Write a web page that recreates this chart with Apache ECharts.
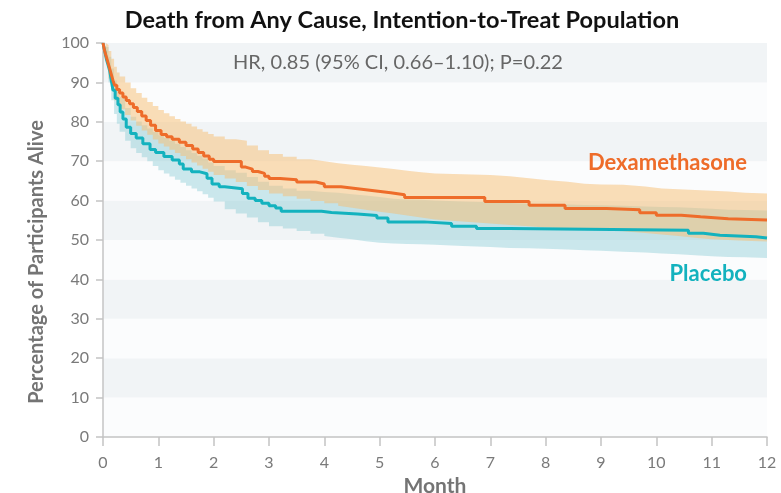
<!DOCTYPE html>
<html>
<head>
<meta charset="utf-8">
<title>Death from Any Cause</title>
<script src="https://cdn.jsdelivr.net/npm/echarts@6/dist/echarts.min.js"></script>
<style>
    html, body { margin: 0; padding: 0; background: #ffffff; }
    #km_chart { width: 781px; height: 493px; }
</style>
</head>
<body>
<div id="km_chart"></div>
<script>

// Data
// ------------------------------

var titleText = 'Death from Any Cause, Intention-to-Treat Population';
var hrText = 'HR, 0.85 (95% CI, 0.66\u20131.10); P=0.22';
var monthTicks = [0, 1, 2, 3, 4, 5, 6, 7, 8, 9, 10, 11, 12];

// Dexamethasone survival curve (month, % alive)
var dexTime = [0, 0.03, 0.06, 0.09, 0.12, 0.15, 0.18, 0.21, 0.25, 0.3, 0.36, 0.42, 0.48, 0.55, 0.62, 0.7, 0.78, 0.86, 0.95, 1.05, 1.15, 1.25, 1.38, 1.5, 1.62, 1.72, 1.82, 1.92, 2.0, 2.5, 2.58, 2.7, 2.8, 2.92, 3.0, 3.2, 3.5, 3.85, 4.0, 4.3, 4.6, 4.9, 5.2, 5.45, 6.9, 7.7, 8.35, 9.1, 9.7, 10.0, 10.45, 10.8, 11.3, 12];
var dexSurv = [100, 98, 96.5, 95, 93.5, 92, 90.5, 89.3, 88.2, 87.3, 86.3, 85.4, 84.6, 83.6, 82.6, 81.5, 80.3, 79.1, 77.8, 76.8, 76.2, 75.6, 74.8, 74.0, 73.1, 72.2, 71.3, 70.5, 69.9, 68.5, 68.0, 67.4, 66.9, 66.2, 65.6, 65.3, 64.7, 64.2, 63.5, 63.0, 62.5, 62.0, 61.5, 60.8, 59.8, 58.8, 58.0, 57.7, 56.9, 56.3, 55.9, 55.4, 55.1, 55.1];

// Placebo survival curve (month, % alive)
var plaTime = [0, 0.03, 0.06, 0.09, 0.12, 0.15, 0.18, 0.22, 0.27, 0.31, 0.36, 0.42, 0.5, 0.6, 0.72, 0.85, 0.95, 1.1, 1.25, 1.38, 1.45, 1.6, 1.75, 1.88, 1.97, 2.1, 2.2, 2.52, 2.62, 2.75, 2.87, 3.0, 3.12, 3.22, 3.95, 4.13, 4.6, 4.95, 5.15, 5.8, 6.3, 6.75, 7.35, 10.58, 10.85, 11.15, 11.8, 12];
var plaSurv = [100, 98, 96, 94.5, 93, 90.5, 88, 86, 84.3, 82.5, 80.7, 78.6, 77.0, 75.9, 74.4, 73.0, 72.2, 71.2, 70.3, 69.3, 68.0, 67.3, 66.8, 65.7, 64.2, 63.5, 63.0, 61.8, 60.6, 60.0, 59.3, 58.7, 58.1, 57.3, 57.0, 56.6, 56.2, 55.6, 54.6, 54.2, 53.5, 52.9, 52.5, 51.7, 51.2, 50.8, 50.5, 50.5];

// 95% confidence bands, sampled on one month grid
var bandTime = [0, 0.05, 0.1, 0.15, 0.2, 0.25, 0.3, 0.4, 0.5, 0.6, 0.7, 0.8, 0.9, 1.0, 1.1, 1.2, 1.3, 1.4, 1.5, 1.6, 1.7, 1.8, 1.9, 2.0, 2.2, 2.4, 2.6, 2.8, 3.0, 3.25, 3.5, 3.75, 4.0, 4.25, 4.5, 4.75, 5.0, 5.25, 5.5, 5.75, 6.0, 6.5, 7.0, 7.35, 7.7, 8.0, 8.4, 8.7, 9.0, 9.4, 9.8, 10.1, 10.4, 10.7, 11.0, 11.3, 11.6, 12];
var dexUpper = [100, 99.5, 98, 96, 94, 92.5, 91.5, 90, 88.5, 87.3, 86.1, 85, 84, 83, 82.2, 81.4, 80.7, 80.1, 79.5, 78.8, 78.1, 77.5, 76.9, 76.3, 75.6, 75.2, 74.0, 72.8, 71.8, 71.1, 70.5, 70.0, 69.5, 69.1, 68.8, 68.4, 68.0, 67.6, 67.2, 66.9, 66.7, 66.5, 66.2, 65.7, 65.2, 64.8, 64.3, 64.1, 64.0, 63.6, 63.1, 62.9, 62.7, 62.5, 62.3, 62.0, 61.8, 61.7];
var dexLower = [100, 95.5, 91, 88, 85.5, 84.3, 83.2, 81.7, 80.3, 79, 77.8, 76.7, 75.5, 74.5, 73.7, 72.9, 72.1, 71.3, 70.5, 69.7, 68.9, 68.1, 67.3, 66.5, 65.6, 64.7, 63.7, 62.7, 61.8, 61.1, 60.5, 59.9, 59.3, 58.7, 58.2, 57.7, 57.2, 56.7, 56.2, 55.7, 55.2, 54.7, 54.2, 53.8, 53.5, 53.2, 53.0, 52.8, 52.6, 52.2, 51.8, 51.4, 51.0, 50.6, 50.2, 50.0, 49.8, 49.6];
var plaUpper = [100, 99, 96.5, 93.5, 90.5, 88.2, 86.3, 83.5, 81.3, 80.1, 79.1, 78.3, 77.4, 76.6, 75.9, 75.2, 74.4, 73.6, 72.8, 72.1, 71.4, 70.6, 69.7, 68.8, 67.7, 67.1, 66.0, 64.8, 63.8, 63.1, 62.5, 62.2, 62.0, 61.6, 61.3, 60.9, 60.5, 60.3, 60.2, 60.0, 59.8, 59.6, 59.4, 59.2, 59.1, 59.0, 58.9, 58.8, 58.7, 58.5, 58.4, 58.3, 58.1, 57.9, 57.7, 57.6, 57.5, 57.4];
var plaLower = [100, 95, 90, 85.5, 82, 79.5, 77.5, 75.2, 73.3, 72.1, 71, 70, 68.8, 67.7, 66.9, 66.1, 65.3, 64.5, 63.8, 63.1, 62.4, 61.6, 60.7, 59.8, 57.8, 56.7, 55.7, 54.5, 53.5, 52.9, 52.3, 51.6, 51.0, 50.6, 50.2, 49.7, 49.3, 49.1, 49.0, 48.9, 48.8, 48.5, 48.2, 48.0, 47.9, 47.8, 47.6, 47.4, 47.3, 47.0, 46.8, 46.6, 46.4, 46.1, 45.9, 45.7, 45.6, 45.4];


// Setup module
// ------------------------------

var EchartsSurvivalCurve = function() {

    var zip = function(xs, ys) {
        return xs.map(function(x, i) { return [x, ys[i]]; });
    };

    // band rows are [value, month] so that the stack runs on the y value
    var bandRows = function(xs, ys) {
        return xs.map(function(x, i) { return [ys[i], x]; });
    };
    var diffRows = function(xs, hi, lo) {
        return xs.map(function(x, i) { return [+(hi[i] - lo[i]).toFixed(2), x]; });
    };

    var _survivalChart = function() {
        if (typeof echarts == 'undefined') {
            console.warn('Warning - echarts.min.js is not loaded.');
            return;
        }

        var chart_element = document.getElementById('km_chart');
        if (!chart_element) return;

        var chart = echarts.init(chart_element, null, { renderer: 'canvas' });

        // Colors
        var dexColor = '#ee6c2a',
            plaColor = '#13b2be',
            dexBand = 'rgba(247, 190, 113, 0.5)',
            plaBand = 'rgba(130, 200, 210, 0.4)',
            axisColor = '#c4c4c4',
            labelColor = '#7a7a7a',
            nameColor = '#747474';

        var fontFamily = 'Lato, "Open Sans", sans-serif';

        // Band helpers
        var bandBase = function(stack, lower) {
            return {
                type: 'line',
                stack: stack,
                step: 'end',
                symbol: 'none',
                silent: true,
                encode: { x: 1, y: 0 },
                lineStyle: { opacity: 0 },
                data: bandRows(bandTime, lower),
                z: 1
            };
        };
        var bandFill = function(stack, upper, lower, color) {
            return {
                type: 'line',
                stack: stack,
                step: 'end',
                symbol: 'none',
                silent: true,
                encode: { x: 1, y: 0 },
                lineStyle: { opacity: 0 },
                areaStyle: { color: color, opacity: 1 },
                data: diffRows(bandTime, upper, lower),
                z: 1
            };
        };

        chart.setOption({
            animation: false,
            backgroundColor: '#ffffff',
            textStyle: { fontFamily: fontFamily },

            title: [
                {
                    text: titleText,
                    left: 397,
                    top: 3,
                    textAlign: 'center',
                    textStyle: { fontFamily: fontFamily, fontSize: 23.5, fontWeight: 'bold', color: '#111111' }
                },
                {
                    text: hrText,
                    left: 393,
                    top: 48,
                    textAlign: 'center',
                    textStyle: { fontFamily: fontFamily, fontSize: 20, fontWeight: 'normal', color: '#666666' }
                }
            ],

            grid: { left: 103, right: 14, top: 43, bottom: 56, outerBoundsMode: 'none' },

            xAxis: {
                type: 'value',
                min: 0,
                max: 12,
                interval: 1,
                name: 'Month',
                nameLocation: 'middle',
                nameGap: 35,
                nameTextStyle: { fontSize: 21, fontWeight: 'bold', color: nameColor },
                axisLine: { lineStyle: { color: axisColor, width: 1.5 } },
                axisTick: { length: 9, lineStyle: { color: axisColor, width: 1.5 } },
                axisLabel: {
                    margin: 18,
                    fontSize: 16,
                    color: labelColor,
                    formatter: function(v) { return monthTicks.indexOf(v) > -1 ? String(v) : ''; }
                },
                splitLine: { show: false }
            },

            yAxis: {
                type: 'value',
                min: 0,
                max: 100,
                interval: 10,
                axisLine: { show: true, lineStyle: { color: axisColor, width: 1.5 } },
                axisTick: { show: true, length: 7, lineStyle: { color: axisColor, width: 1.5 } },
                axisLabel: { margin: 14, fontSize: 16, color: labelColor },
                splitLine: { show: false },
                splitArea: {
                    show: true,
                    areaStyle: { color: ['#fbfcfd', '#f1f4f6'] }
                }
            },

            graphic: [
                {
                    type: 'text',
                    z: 100,
                    x: 37,
                    y: 262,
                    rotation: Math.PI / 2,
                    style: {
                        text: 'Percentage of Participants Alive',
                        fill: nameColor,
                        fontSize: 20,
                        fontWeight: 'bold',
                        fontFamily: fontFamily,
                        align: 'center',
                        verticalAlign: 'middle'
                    }
                },
                {
                    type: 'text',
                    z: 100,
                    x: 747,
                    y: 163,
                    style: {
                        text: 'Dexamethasone',
                        fill: dexColor,
                        fontSize: 22,
                        fontWeight: 'bold',
                        fontFamily: fontFamily,
                        align: 'right',
                        verticalAlign: 'middle'
                    }
                },
                {
                    type: 'text',
                    z: 100,
                    x: 747,
                    y: 274,
                    style: {
                        text: 'Placebo',
                        fill: plaColor,
                        fontSize: 22,
                        fontWeight: 'bold',
                        fontFamily: fontFamily,
                        align: 'right',
                        verticalAlign: 'middle'
                    }
                }
            ],

            series: [
                bandBase('pla', plaLower),
                bandFill('pla', plaUpper, plaLower, plaBand),
                bandBase('dex', dexLower),
                bandFill('dex', dexUpper, dexLower, dexBand),
                {
                    name: 'Placebo',
                    type: 'line',
                    step: 'end',
                    symbol: 'none',
                    lineStyle: { color: plaColor, width: 3 },
                    data: zip(plaTime, plaSurv),
                    z: 3
                },
                {
                    name: 'Dexamethasone',
                    type: 'line',
                    step: 'end',
                    symbol: 'none',
                    lineStyle: { color: dexColor, width: 3 },
                    data: zip(dexTime, dexSurv),
                    z: 4
                }
            ]
        });

        window.addEventListener('resize', function() {
            chart.resize();
        });
    };

    return {
        init: function() {
            _survivalChart();
        }
    };
}();


// Initialize module
// ------------------------------

document.addEventListener('DOMContentLoaded', function() {
    EchartsSurvivalCurve.init();
});
</script>
</body>
</html>
